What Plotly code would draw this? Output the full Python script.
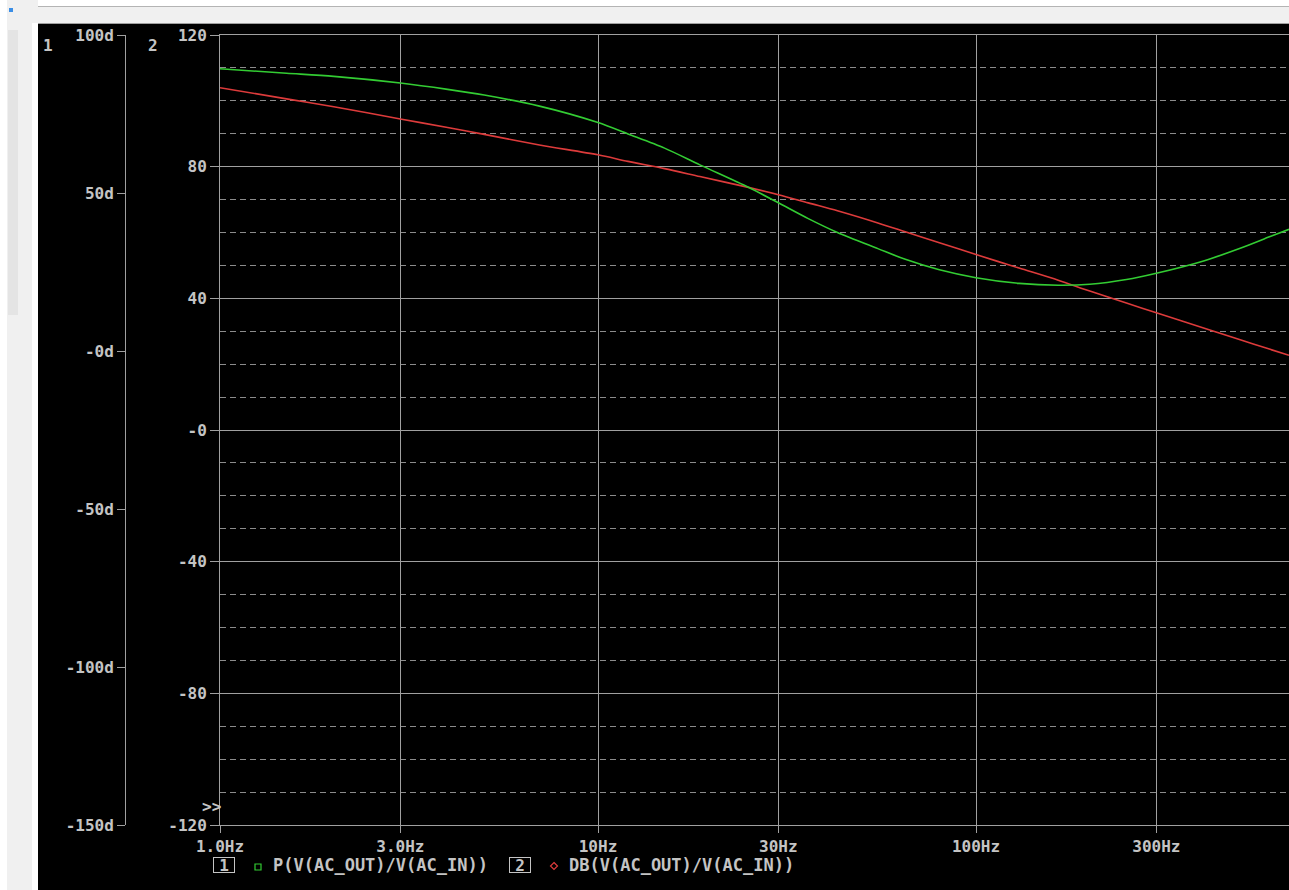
import plotly.graph_objects as go

# ---- data ----
freq_hz = [1, 1.5, 2, 3, 4, 5, 7, 10, 12, 15, 18.6, 25, 30, 36, 43, 55, 65, 80, 100, 130, 165, 200, 250, 300, 400, 500, 600, 673]
phase_deg = [89.3, 87.9, 86.9, 84.8, 82.8, 81.0, 77.5, 72.3, 68.7, 64.2, 58.9, 51.8, 46.9, 41.9, 37.5, 32.4, 29.0, 25.7, 23.2,
             21.4, 20.8, 21.1, 22.6, 24.6, 28.5, 32.5, 36.2, 38.5]
mag_db = [104.0, 100.6, 98.2, 94.5, 91.9, 89.8, 86.6, 83.6, 81.6, 79.4, 77.0, 73.7, 71.5, 69.0, 66.6, 62.9, 60.2, 56.9, 53.3,
          49.2, 45.5, 42.2, 38.6, 35.6, 31.0, 27.4, 24.5, 22.7]

x_tickvals = [1, 3, 10, 30, 100, 300]
x_ticktext = ["1.0Hz", "3.0Hz", "10Hz", "30Hz", "100Hz", "300Hz"]
db_tickvals = [-120, -80, -40, 0, 40, 80, 120]
db_ticktext = ["-120", "-80", "-40", "-0", "40", "80", "120"]
deg_tickvals = [-150, -100, -50, 0, 50, 100]
deg_ticktext = ["-150d", "-100d", "-50d", "-0d", "50d", "100d"]
trace1_name = "P(V(AC_OUT)/V(AC_IN))"
trace2_name = "DB(V(AC_OUT)/V(AC_IN))"

# page body margin is removed by the post script: figure drawn from page (0, 0)
OX, OY = 0, 0
PW, PH = 1289, 890
W, H = PW - OX, PH - OY
TOP, BOT = 35, 825          # plot area top/bottom in page pixels
FONT = "DejaVu Sans Mono"
TXT = "#c4c4c4"
GRID = "#a0a0a0"
DASH = "#8c8c8c"


def px(x):
    return (x - OX) / W


def py(y):
    return (BOT - y) / (BOT - TOP)


fig = go.Figure()
fig.add_trace(go.Scatter(x=freq_hz, y=phase_deg, yaxis="y2", mode="lines", name=trace1_name,
                         line=dict(color="#33cc33", width=1.6, shape="spline", smoothing=0.8), showlegend=False))
fig.add_trace(go.Scatter(x=freq_hz, y=mag_db, yaxis="y", mode="lines", name=trace2_name,
                         line=dict(color="#dd3b3b", width=1.6, shape="spline", smoothing=0.8), showlegend=False))

font = dict(family=FONT, size=16, color=TXT, weight="bold")
lfont = dict(family=FONT, size=17, color=TXT, weight="bold")

fig.update_layout(
    template="none",
    width=W, height=H,
    margin=dict(l=0, r=0, t=TOP - OY, b=PH - BOT, pad=0, autoexpand=False),
    paper_bgcolor="black", plot_bgcolor="black",
    font=font,
    xaxis=dict(type="log", range=[0, (PW - 220) / 378], domain=[px(220), 1], automargin=False,
               tickvals=x_tickvals, ticktext=x_ticktext, showgrid=True, gridcolor=GRID, gridwidth=1,
               showline=True, linecolor=GRID, linewidth=1, mirror=True,
               ticks="outside", ticklen=7, tickcolor=GRID, zeroline=False, tickfont=font),
    yaxis=dict(range=[-120, 120], tickvals=db_tickvals, ticktext=db_ticktext, automargin=False,
               showgrid=True, gridcolor=GRID, gridwidth=1, zeroline=False,
               showline=True, linecolor=GRID, linewidth=1,
               ticks="outside", ticklen=9, tickcolor=GRID, tickfont=font,
               minor=dict(tickmode="linear", tick0=0, dtick=10, showgrid=True,
                          gridcolor=DASH, griddash="6px,4px", gridwidth=1, ticks="")),
    yaxis2=dict(range=[-150, 100], overlaying="y", anchor="free", position=px(125), side="left",
                automargin=False,
                tickvals=deg_tickvals, ticktext=deg_ticktext, showgrid=False, zeroline=False,
                showline=True, linecolor=GRID, linewidth=1,
                ticks="outside", ticklen=8, tickcolor=GRID, tickfont=font),
)

# window frame around the black plot window
shapes = [
    dict(type="rect", xref="paper", yref="paper", x0=px(0), x1=px(PW + 10), y0=py(0), y1=py(23),
         fillcolor="#f0f0f0", line=dict(width=0), layer="below"),
    dict(type="rect", xref="paper", yref="paper", x0=px(0), x1=px(PW + 10), y0=py(0), y1=py(6),
         fillcolor="#ffffff", line=dict(width=0), layer="below"),
    dict(type="line", xref="paper", yref="paper", x0=px(38), x1=px(PW + 10), y0=py(6.5), y1=py(6.5),
         line=dict(color="#b4b4b4", width=1)),
    dict(type="line", xref="paper", yref="paper", x0=px(38), x1=px(PW + 10), y0=py(23.5), y1=py(23.5),
         line=dict(color="#a0a0a0", width=1)),
    dict(type="rect", xref="paper", yref="paper", x0=px(0), x1=px(38), y0=py(0), y1=py(PH + 10),
         fillcolor="#f0f0f0", line=dict(width=0), layer="below"),
    dict(type="rect", xref="paper", yref="paper", x0=px(0), x1=px(7), y0=py(0), y1=py(PH + 10),
         fillcolor="#ffffff", line=dict(width=0), layer="below"),
    dict(type="rect", xref="paper", yref="paper", x0=px(32), x1=px(38), y0=py(23), y1=py(PH + 10),
         fillcolor="#ffffff", line=dict(width=0), layer="below"),
    dict(type="rect", xref="paper", yref="paper", x0=px(8), x1=px(18), y0=py(30), y1=py(315),
         fillcolor="#e4e4e4", line=dict(width=0), layer="below"),
    dict(type="rect", xref="paper", yref="paper", x0=px(9), x1=px(13), y0=py(8), y1=py(12),
         fillcolor="#3a8ee6", line=dict(width=0)),
    # legend symbols
    dict(type="rect", xref="paper", yref="paper", x0=px(255), x1=px(261), y0=py(864), y1=py(870),
         fillcolor="black", line=dict(color="#33cc33", width=1.2)),
    dict(type="path", xref="paper", yref="paper",
         path=f"M {px(554)} {py(862.5)} L {px(557.5)} {py(866)} L {px(554)} {py(869.5)} L {px(550.5)} {py(866)} Z",
         fillcolor="black", line=dict(color="#dd3b3b", width=1.2)),
]
fig.update_layout(shapes=shapes)

ann = []


def label(x, y, text, xanchor="left", f=font, **kw):
    ann.append(dict(xref="paper", yref="paper", x=px(x), y=py(y), text=text, showarrow=False,
                    xanchor=xanchor, yanchor="middle", font=f, **kw))


label(41, 46, "1")
label(146, 46, "2")
label(200, 806, "&gt;&gt;")
label(224, 865, "1", xanchor="center", bordercolor=TXT, borderwidth=1, borderpad=0,
      width=20, height=14, align="center")
label(271, 865, trace1_name, f=lfont)
label(520, 865, "2", xanchor="center", bordercolor=TXT, borderwidth=1, borderpad=0,
      width=20, height=14, align="center")
label(567, 865, trace2_name, f=lfont)
fig.update_layout(annotations=ann)

fig.write_html("out.html",
               config={"displayModeBar": False},
               post_script="document.documentElement.style.overflow='hidden';"
                           "document.body.style.overflow='hidden';"
                           "document.body.style.margin='0';")
